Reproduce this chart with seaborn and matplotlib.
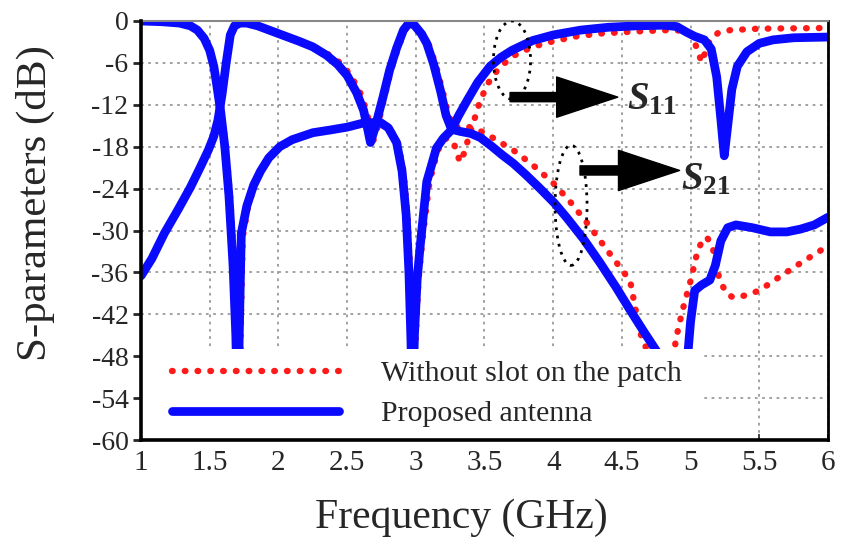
import matplotlib
matplotlib.use("Agg")
import matplotlib.pyplot as plt
import seaborn as sns
from matplotlib.lines import Line2D
from matplotlib.patches import Ellipse, Rectangle, FancyArrowPatch

# proposed antenna (blue)
f_s11_prop = [1.0, 1.15, 1.28, 1.36, 1.41, 1.46, 1.5, 1.53, 1.55, 1.58, 1.61, 1.64, 1.67, 1.69, 1.705,
              1.715, 1.73, 1.77, 1.82, 1.87, 1.93, 2.01, 2.1, 2.25, 2.38, 2.5, 2.62, 2.74, 2.8, 2.86,
              2.9, 2.93, 2.95, 2.965, 2.975, 2.99, 3.01, 3.03, 3.08, 3.15, 3.2, 3.26, 3.31, 3.37, 3.45,
              3.54, 3.62, 3.7, 3.85, 4.0, 4.2, 4.4, 4.6, 4.8, 4.9, 4.97, 5.03, 5.1, 5.15, 5.19,
              5.22, 5.245, 5.27, 5.3, 5.34, 5.41, 5.5, 5.6, 5.75, 6.0]
s11_prop = [0, -0.1, -0.3, -0.7, -1.3, -2.5, -4.2, -6.5, -9, -13, -18, -25, -35, -45, -58,
            -45, -30.4, -26.5, -23.5, -21.5, -19.6, -18, -17, -16, -15.6, -15.2, -14.6, -14.5, -15.3, -17.4,
            -21.5, -27.8, -36, -46, -58, -45, -37, -32.6, -23, -18.2, -16.8, -15.6, -13.6, -11.5, -8.8,
            -6.5, -5.2, -4.2, -2.8, -2.0, -1.3, -0.9, -0.7, -0.6, -0.8, -1.6, -2.2, -2.7, -4.0, -8,
            -14, -19.3, -15, -9.8, -6.5, -4.4, -3.2, -2.7, -2.4, -2.3]

f_s21_prop = [1.0, 1.08, 1.17, 1.27, 1.36, 1.43, 1.49, 1.53, 1.56, 1.59, 1.62, 1.65, 1.68, 1.72, 1.77,
              1.85, 2.0, 2.15, 2.25, 2.35, 2.43, 2.5, 2.57, 2.62, 2.65, 2.67, 2.7, 2.76, 2.81, 2.86,
              2.91, 2.95, 2.99, 3.04, 3.08, 3.13, 3.18, 3.22, 3.26, 3.32, 3.4, 3.47, 3.55, 3.63, 3.71,
              3.8, 3.9, 4.01, 4.1, 4.22, 4.34, 4.46, 4.56, 4.66, 4.76, 4.85, 4.93, 4.97, 5.0, 5.03,
              5.08, 5.14, 5.18, 5.22, 5.27, 5.33, 5.45, 5.58, 5.7, 5.8, 5.9, 6.0]
s21_prop = [-36.5, -34, -30.4, -27, -23.8, -21, -18.5, -16.5, -14.2, -10.5, -6, -2, -0.7, -0.3, -0.3,
            -0.7, -1.8, -2.9, -3.7, -4.9, -6.2, -7.8, -10.3, -12.8, -15.5, -17.4, -15.5, -11, -7, -3.9,
            -1.3, -0.3, -0.6, -1.8, -3.2, -6.2, -10, -13.5, -15.5, -15.8, -16.1, -16.7, -17.9, -19.2, -20.4,
            -22, -23.9, -26.1, -28.2, -31.2, -34.6, -38.2, -41.4, -44.5, -47.5, -51, -60, -50, -43, -38.6,
            -37.8, -37.1, -35, -31.5, -29.6, -29.2, -29.6, -30.2, -30.2, -29.8, -29.2, -28.1]

# without slot on the patch (red)
f_s11_noslot = [1.0, 1.15, 1.28, 1.36, 1.41, 1.46, 1.5, 1.53, 1.56, 1.59, 1.62, 1.65, 1.68, 1.70, 1.715,
                1.725, 1.74, 1.78, 1.83, 1.88, 1.94, 2.01, 2.1, 2.25, 2.38, 2.5, 2.62, 2.74, 2.81, 2.87,
                2.91, 2.94, 2.96, 2.975, 2.985, 3.0, 3.02, 3.05, 3.1, 3.16, 3.22, 3.27, 3.3, 3.32, 3.35,
                3.38, 3.42, 3.47, 3.53, 3.61, 3.72, 3.85, 4.0, 4.17, 4.34, 4.6, 4.85, 4.95, 5.0, 5.04,
                5.08, 5.11, 5.14, 5.2, 5.29, 5.5, 6.0]
s11_noslot = [0, -0.1, -0.3, -0.7, -1.3, -2.5, -4.2, -6.5, -9.5, -13.5, -18.5, -25.5, -35, -45, -58,
              -45, -31, -26.5, -23.3, -21.2, -19.4, -18.1, -17, -16, -15.6, -15.2, -14.6, -14.4, -15.3, -17.4,
              -21.5, -28, -36, -46, -58, -45, -37, -31, -23, -18.5, -16.8, -17.2, -18.8, -20.2, -19,
              -17, -14.5, -11.3, -8.8, -6.6, -4.9, -3.7, -2.9, -2.2, -1.8, -1.5, -1.3, -1.4, -2.0, -3.6,
              -5.9, -4.3, -2.8, -1.7, -1.3, -1.1, -1.0]

f_s21_noslot = [1.0, 1.08, 1.17, 1.27, 1.36, 1.43, 1.49, 1.53, 1.56, 1.59, 1.62, 1.65, 1.68, 1.72, 1.77,
                1.85, 2.0, 2.15, 2.25, 2.35, 2.45, 2.52, 2.59, 2.64, 2.67, 2.69, 2.72, 2.77, 2.82, 2.87,
                2.92, 2.96, 3.0, 3.05, 3.1, 3.15, 3.2, 3.24, 3.28, 3.33, 3.39, 3.5, 3.6, 3.71, 3.85,
                4.0, 4.12, 4.25, 4.4, 4.56, 4.63, 4.7, 4.78, 4.84, 4.87, 4.89, 4.94, 5.0, 5.05, 5.09,
                5.12, 5.16, 5.21, 5.26, 5.31, 5.4, 5.5, 5.62, 5.75, 5.87, 6.0]
s21_noslot = [-36.5, -34, -30.4, -27, -23.8, -21, -18.5, -16.5, -14.2, -10.5, -6, -2, -0.7, -0.3, -0.3,
              -0.7, -1.8, -2.9, -3.6, -4.6, -6.0, -7.6, -10.0, -12.8, -15.3, -17.2, -15.3, -11, -7, -3.9,
              -1.3, -0.3, -0.6, -1.8, -3.6, -6.6, -10.4, -13.6, -15.3, -15.0, -15.2, -16, -17.2, -18.5, -20.6,
              -23.2, -25.8, -29, -33, -37.2, -44.5, -48, -56, -59, -52, -45.8, -41.5, -37.2, -33, -31.2,
              -31, -32.4, -37, -39, -39.6, -39.3, -38.6, -37, -35.3, -33.8, -32.2]

xticks = [1, 1.5, 2, 2.5, 3, 3.5, 4, 4.5, 5, 5.5, 6]
xlabels = ["1", "1.5", "2", "2.5", "3", "3.5", "4", "4.5", "5", "5.5", "6"]
yticks = [0, -6, -12, -18, -24, -30, -36, -42, -48, -54, -60]
legend_labels = ["Without slot on the patch", "Proposed antenna"]

sns.set_theme(style="white")
plt.rcParams["font.family"] = ["Liberation Serif", "DejaVu Serif"]
plt.rcParams["axes.unicode_minus"] = False
plt.rcParams["mathtext.fontset"] = "custom"
plt.rcParams["mathtext.it"] = "Liberation Serif:italic:bold"
plt.rcParams["mathtext.bf"] = "Liberation Serif:bold"
plt.rcParams["mathtext.rm"] = "Liberation Serif"

fig = plt.figure(figsize=(8.41, 5.54), dpi=100)
ax = fig.add_axes([141/841, 1-440/554, 687/841, 419/554])

red_kw = dict(color="#ff1a1a", lw=4.6, linestyle=(0, (0.1, 1.9)), dash_capstyle="round")
blue_kw = dict(color="#0a0aff", lw=6.3, solid_capstyle="round")

sns.lineplot(x=f_s11_noslot, y=s11_noslot, ax=ax, sort=False, estimator=None, **red_kw)
sns.lineplot(x=f_s21_noslot, y=s21_noslot, ax=ax, sort=False, estimator=None, **red_kw)
sns.lineplot(x=f_s11_prop, y=s11_prop, ax=ax, sort=False, estimator=None, **blue_kw)
sns.lineplot(x=f_s21_prop, y=s21_prop, ax=ax, sort=False, estimator=None, **blue_kw)

ax.set_xlim(1, 6)
ax.set_ylim(-60, 0)
ax.set_xticks(xticks)
ax.set_xticklabels(xlabels)
ax.set_yticks(yticks)
ax.grid(True, color="#9a9a9a", linestyle=(0, (1.5, 2.5)), lw=1.3)
ax.tick_params(axis="x", direction="in", length=4, width=1.2, labelsize=21, pad=7, bottom=True)
ax.tick_params(axis="y", direction="out", length=6, width=2, labelsize=20, pad=3, left=True)

for s in ["left", "bottom"]:
    ax.spines[s].set_color("black")
    ax.spines[s].set_linewidth(2.6)
    ax.spines[s].set_zorder(5)
ax.spines["right"].set_color("black")
ax.spines["right"].set_linewidth(2)
ax.spines["top"].set_color("#888888")
ax.spines["top"].set_linewidth(1.5)

ax.set_xlabel("Frequency (GHz)", fontsize=30)
ax.set_ylabel("S-parameters (dB)", fontsize=31)
ax.xaxis.set_label_coords(0.467, -0.14)
ax.yaxis.set_label_coords(-0.125, 0.565)

# white block behind the legend
ax.add_patch(Rectangle((0, 0), 0.818, 0.217, transform=ax.transAxes, facecolor="white",
                       edgecolor="none", zorder=4))
handles = [Line2D([], [], **red_kw), Line2D([], [], **blue_kw)]
ax.legend(handles, legend_labels, loc="lower left", bbox_to_anchor=(0.045, 0.03), frameon=False,
          fontsize=21.5, handlelength=5.6, handletextpad=1.4, labelspacing=0.45, borderpad=0,
          borderaxespad=0)

# dotted ellipses + arrows
ax.add_patch(Ellipse((3.70, -5.6), 0.27, 11.2, fill=False, edgecolor="black", lw=2,
                     linestyle=(0, (1, 2)), zorder=6))
ax.add_patch(Ellipse((4.13, -26.4), 0.233, 17.2, fill=False, edgecolor="black", lw=2,
                     linestyle=(0, (1, 2)), zorder=6))
arrow_style = "simple,head_length=2.2,head_width=1.45,tail_width=0.33"
ax.add_patch(FancyArrowPatch((3.686, -10.9), (4.47, -10.9), arrowstyle=arrow_style,
                             mutation_scale=20, color="black", shrinkA=0, shrinkB=0, zorder=6))
ax.add_patch(FancyArrowPatch((4.195, -21.4), (4.92, -21.4), arrowstyle=arrow_style,
                             mutation_scale=20, color="black", shrinkA=0, shrinkB=0, zorder=6))
ax.text(4.54, -11.3, r"$S_{\mathbf{11}}$", fontsize=28, va="center", ha="left", zorder=6)
ax.text(4.93, -22.8, r"$S_{\mathbf{21}}$", fontsize=28, va="center", ha="left", zorder=6)

plt.savefig("out.png", dpi=100)
